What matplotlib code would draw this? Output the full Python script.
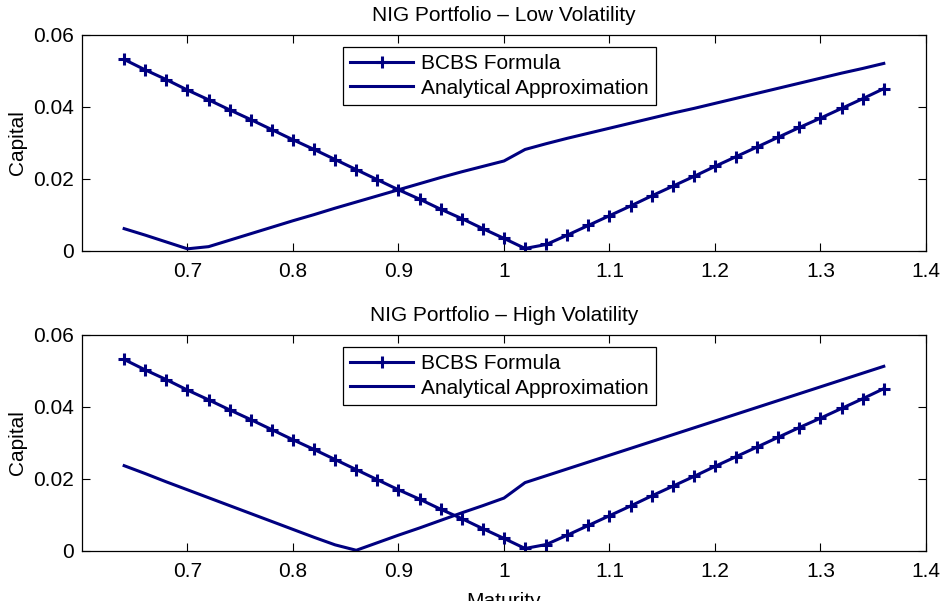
import numpy as np
import matplotlib
matplotlib.use("Agg")
import matplotlib.pyplot as plt

plt.rcParams['font.family'] = ['Liberation Sans', 'DejaVu Sans']
plt.rcParams['font.size'] = 15

# maturity grid (0.64 .. 1.36 step 0.02)
maturity = [0.64, 0.66, 0.68, 0.70, 0.72, 0.74, 0.76, 0.78, 0.80, 0.82,
            0.84, 0.86, 0.88, 0.90, 0.92, 0.94, 0.96, 0.98, 1.00, 1.02,
            1.04, 1.06, 1.08, 1.10, 1.12, 1.14, 1.16, 1.18, 1.20, 1.22,
            1.24, 1.26, 1.28, 1.30, 1.32, 1.34, 1.36]

# BCBS formula capital (same in both panels)
bcbs = [0.0532, 0.0503, 0.0476, 0.0447, 0.0420, 0.0392, 0.0365, 0.0337, 0.0309, 0.0282,
        0.0254, 0.0226, 0.0198, 0.0170, 0.0144, 0.0116, 0.0090, 0.0062, 0.0035, 0.0007,
        0.0018, 0.0044, 0.0071, 0.0098, 0.0125, 0.0153, 0.0180, 0.0207, 0.0235, 0.0262,
        0.0289, 0.0316, 0.0343, 0.0369, 0.0396, 0.0423, 0.0451]

# analytical approximation, low volatility
approx_low = [0.0062, 0.0044, 0.0025, 0.0006, 0.0012, 0.0030, 0.0048, 0.0066, 0.0084, 0.0101,
              0.0119, 0.0136, 0.0153, 0.0170, 0.0187, 0.0204, 0.0220, 0.0235, 0.0250, 0.0282,
              0.0298, 0.0313, 0.0327, 0.0341, 0.0355, 0.0369, 0.0383, 0.0396, 0.0410, 0.0424,
              0.0438, 0.0452, 0.0466, 0.0480, 0.0494, 0.0507, 0.0521]

# analytical approximation, high volatility
approx_high = [0.0237, 0.0215, 0.0192, 0.0170, 0.0148, 0.0126, 0.0104, 0.0082, 0.0060, 0.0038,
               0.0017, 0.0002, 0.0023, 0.0044, 0.0064, 0.0085, 0.0106, 0.0126, 0.0147, 0.0190,
               0.0209, 0.0228, 0.0247, 0.0266, 0.0285, 0.0304, 0.0323, 0.0342, 0.0361, 0.0380,
               0.0399, 0.0418, 0.0437, 0.0456, 0.0475, 0.0494, 0.0513]

titles = ['NIG Portfolio \u2013 Low Volatility', 'NIG Portfolio \u2013 High Volatility']
xticks = [0.7, 0.8, 0.9, 1.0, 1.1, 1.2, 1.3, 1.4]
xticklabels = ['0.7', '0.8', '0.9', '1', '1.1', '1.2', '1.3', '1.4']
yticks = [0, 0.02, 0.04, 0.06]
yticklabels = ['0', '0.02', '0.04', '0.06']

navy = '#000080'

fig = plt.figure(figsize=(9.42, 6.01), dpi=100)
ax1 = fig.add_axes([0.0870, 0.5824, 0.8960, 0.3594])
ax2 = fig.add_axes([0.0870, 0.0832, 0.8960, 0.3594])

for ax, approx, title in [(ax1, approx_low, titles[0]), (ax2, approx_high, titles[1])]:
    ax.plot(maturity, bcbs, color=navy, lw=2.2, marker='+', ms=9, mew=2.2,
            label='BCBS Formula')
    ax.plot(maturity, approx, color=navy, lw=2.2, label='Analytical Approximation')
    ax.set_xlim(0.6, 1.4)
    ax.set_ylim(0, 0.06)
    ax.set_xticks(xticks)
    ax.set_xticklabels(xticklabels)
    ax.set_yticks(yticks)
    ax.set_yticklabels(yticklabels)
    ax.tick_params(direction='in', length=6, width=0.8, top=True, right=True,
                   labelsize=15)
    ax.tick_params(axis='x', pad=8)
    ax.tick_params(axis='y', pad=6)
    for s in ax.spines.values():
        s.set_linewidth(0.9)
    ax.set_title(title, fontsize=15, pad=10)
    ax.set_ylabel('Capital', fontsize=15, labelpad=4)
    leg = ax.legend(loc='upper center', bbox_to_anchor=(0.4947, 0.944),
                    borderaxespad=0, fancybox=False, edgecolor='black',
                    framealpha=1, fontsize=15, handlelength=3.0,
                    handletextpad=0.4, labelspacing=0.25, borderpad=0.35)
    leg.get_frame().set_linewidth(0.9)

ax2.set_xlabel('Maturity', fontsize=15, labelpad=8)

fig.savefig('out.png', dpi=100)
